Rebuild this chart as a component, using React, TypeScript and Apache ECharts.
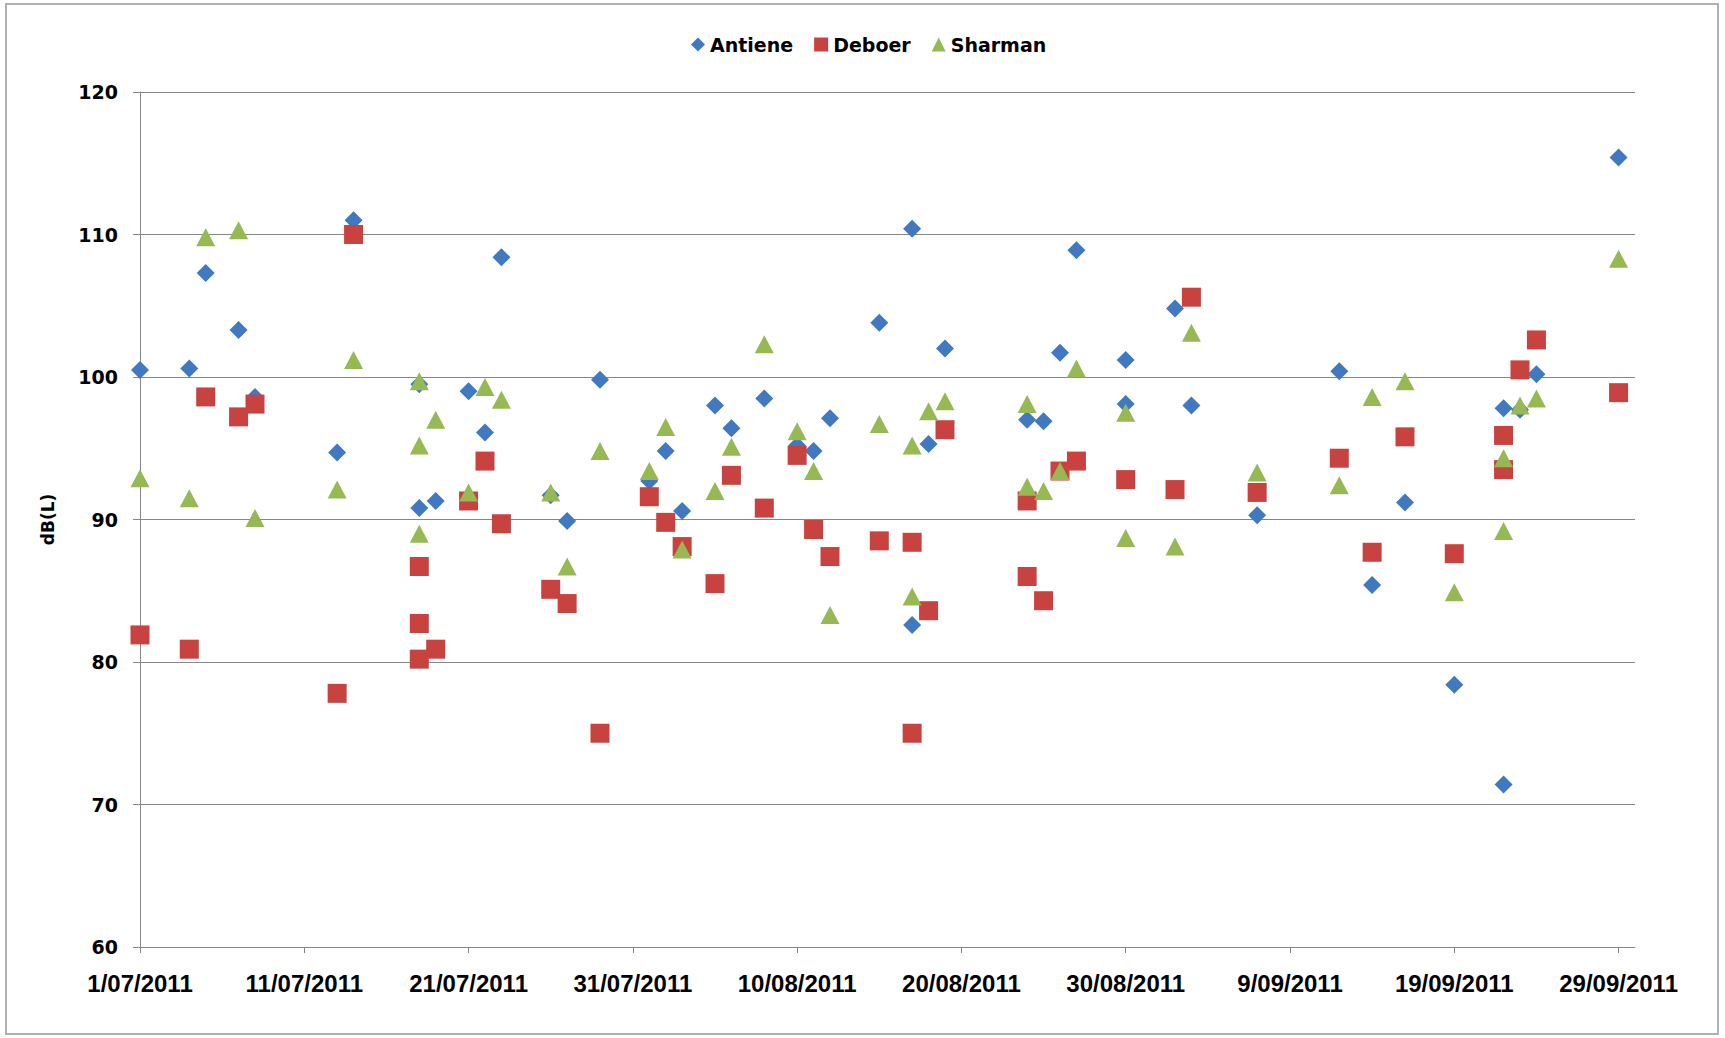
import React, { useEffect, useRef } from "react";
import * as echarts from "echarts";

// Tick positions (days after 1 July 2011) and y ticks
const xTickDays = [0, 10, 20, 30, 40, 50, 60, 70, 80, 90];
const yMin = 60;
const yMax = 120;
const yStep = 10;

const seriesNames = ["Antiene", "Deboer", "Sharman"];

const antiene: [string, number][] = [
  ["2011-07-01", 100.5], ["2011-07-04", 100.6], ["2011-07-05", 107.3], ["2011-07-07", 103.3],
  ["2011-07-08", 98.6], ["2011-07-13", 94.7], ["2011-07-14", 111.0], ["2011-07-18", 99.5],
  ["2011-07-18", 90.8], ["2011-07-19", 91.3], ["2011-07-21", 99.0], ["2011-07-22", 96.1],
  ["2011-07-23", 108.4], ["2011-07-26", 91.7], ["2011-07-27", 89.9], ["2011-07-29", 99.8],
  ["2011-08-01", 92.7], ["2011-08-02", 94.8], ["2011-08-03", 90.6], ["2011-08-05", 98.0],
  ["2011-08-06", 96.4], ["2011-08-08", 98.5], ["2011-08-10", 95.2], ["2011-08-11", 94.8],
  ["2011-08-12", 97.1], ["2011-08-15", 103.8], ["2011-08-17", 110.4], ["2011-08-17", 82.6],
  ["2011-08-18", 95.3], ["2011-08-19", 102.0], ["2011-08-24", 97.0], ["2011-08-25", 96.9],
  ["2011-08-26", 101.7], ["2011-08-27", 108.9], ["2011-08-30", 101.2], ["2011-08-30", 98.1],
  ["2011-09-02", 104.8], ["2011-09-03", 98.0], ["2011-09-07", 90.3], ["2011-09-12", 100.4],
  ["2011-09-14", 85.4], ["2011-09-16", 91.2], ["2011-09-19", 78.4], ["2011-09-22", 97.8],
  ["2011-09-22", 71.4], ["2011-09-23", 97.7], ["2011-09-24", 100.2], ["2011-09-29", 115.4],
];

const deboer: [string, number][] = [
  ["2011-07-01", 81.9], ["2011-07-04", 80.9], ["2011-07-05", 98.6], ["2011-07-07", 97.2],
  ["2011-07-08", 98.1], ["2011-07-13", 77.8], ["2011-07-14", 110.0], ["2011-07-18", 86.7],
  ["2011-07-18", 82.7], ["2011-07-18", 80.2], ["2011-07-19", 80.9], ["2011-07-21", 91.3],
  ["2011-07-22", 94.1], ["2011-07-23", 89.7], ["2011-07-26", 85.1], ["2011-07-27", 84.1],
  ["2011-07-29", 75.0], ["2011-08-01", 91.6], ["2011-08-02", 89.8], ["2011-08-03", 88.1],
  ["2011-08-05", 85.5], ["2011-08-06", 93.1], ["2011-08-08", 90.8], ["2011-08-10", 94.5],
  ["2011-08-11", 89.3], ["2011-08-12", 87.4], ["2011-08-15", 88.5], ["2011-08-17", 88.4],
  ["2011-08-17", 75.0], ["2011-08-18", 83.6], ["2011-08-19", 96.3], ["2011-08-24", 91.3],
  ["2011-08-24", 86.0], ["2011-08-25", 84.3], ["2011-08-26", 93.4], ["2011-08-27", 94.1],
  ["2011-08-30", 92.8], ["2011-09-02", 92.1], ["2011-09-03", 105.6], ["2011-09-07", 91.9],
  ["2011-09-12", 94.3], ["2011-09-14", 87.7], ["2011-09-16", 95.8], ["2011-09-19", 87.6],
  ["2011-09-22", 95.9], ["2011-09-22", 93.5], ["2011-09-23", 100.5], ["2011-09-24", 102.6],
  ["2011-09-29", 98.9],
];

const sharman: [string, number][] = [
  ["2011-07-01", 92.9], ["2011-07-04", 91.5], ["2011-07-05", 109.8], ["2011-07-07", 110.3],
  ["2011-07-08", 90.1], ["2011-07-13", 92.1], ["2011-07-14", 101.2], ["2011-07-18", 99.7],
  ["2011-07-18", 95.2], ["2011-07-18", 89.0], ["2011-07-19", 97.0], ["2011-07-21", 91.9],
  ["2011-07-22", 99.3], ["2011-07-23", 98.4], ["2011-07-26", 91.9], ["2011-07-27", 86.7],
  ["2011-07-29", 94.8], ["2011-08-01", 93.4], ["2011-08-02", 96.5], ["2011-08-03", 87.9],
  ["2011-08-05", 92.0], ["2011-08-06", 95.1], ["2011-08-08", 102.3], ["2011-08-10", 96.2],
  ["2011-08-11", 93.4], ["2011-08-12", 83.3], ["2011-08-15", 96.7], ["2011-08-17", 95.2],
  ["2011-08-17", 84.6], ["2011-08-18", 97.6], ["2011-08-19", 98.3], ["2011-08-24", 98.1],
  ["2011-08-24", 92.3], ["2011-08-25", 92.0], ["2011-08-26", 93.4], ["2011-08-27", 100.6],
  ["2011-08-30", 97.5], ["2011-08-30", 88.7], ["2011-09-02", 88.1], ["2011-09-03", 103.1],
  ["2011-09-07", 93.3], ["2011-09-12", 92.4], ["2011-09-14", 98.6], ["2011-09-16", 99.7],
  ["2011-09-19", 84.9], ["2011-09-22", 94.3], ["2011-09-22", 89.2], ["2011-09-23", 98.0],
  ["2011-09-24", 98.5], ["2011-09-29", 108.3],
];

const START = Date.UTC(2011, 6, 1);
const DAY = 86400000;
const toDay = (s: string) => (Date.parse(s + "T00:00:00Z") - START) / DAY;
const toPoints = (arr: [string, number][]) => arr.map(([d, v]) => [toDay(d), v]);
const fmtDate = (v: number) => {
  const dt = new Date(START + Math.round(v) * DAY);
  const mm = String(dt.getUTCMonth() + 1).padStart(2, "0");
  return `${dt.getUTCDate()}/${mm}/${dt.getUTCFullYear()}`;
};

const AXIS_GRAY = "#868686";

export default function App() {
  const ref = useRef<HTMLDivElement>(null);
  useEffect(() => {
    if (!ref.current) return;
    const chart = echarts.init(ref.current, null, { renderer: "svg" });
    chart.setOption({
      animation: false,
      backgroundColor: "#ffffff",
      graphic: [
        {
          type: "rect",
          silent: true,
          shape: { x: 6, y: 4, width: 1712, height: 1030 },
          style: { fill: "none", stroke: "#b0b0b0", lineWidth: 2 },
        },
      ],
      legend: {
        left: 686,
        top: 30,
        itemWidth: 14,
        itemHeight: 14,
        itemGap: 21,
        data: [
          { name: seriesNames[0], icon: "diamond" },
          { name: seriesNames[1], icon: "rect" },
          { name: seriesNames[2], icon: "triangle" },
        ],
        textStyle: {
          fontFamily: "DejaVu Sans",
          fontWeight: "bold",
          fontSize: 19,
          color: "#000",
        },
      },
      grid: { left: 140, right: 90, top: 92, bottom: 91, containLabel: false },
      xAxis: {
        type: "value",
        min: 0,
        max: 91,
        interval: 10,
        axisLine: { show: true, lineStyle: { color: AXIS_GRAY, width: 1 } },
        axisTick: {
          show: true,
          length: 6,
          customValues: xTickDays,
          lineStyle: { color: AXIS_GRAY },
        },
        axisLabel: {
          customValues: xTickDays,
          formatter: (v: number) => fmtDate(v),
          fontFamily: "Liberation Sans",
          fontWeight: "bold",
          fontSize: 24,
          color: "#000",
          margin: 24,
        },
        splitLine: { show: false },
      },
      yAxis: {
        type: "value",
        min: yMin,
        max: yMax,
        interval: yStep,
        name: "dB(L)",
        nameLocation: "middle",
        nameGap: 84,
        nameTextStyle: {
          fontFamily: "DejaVu Sans",
          fontWeight: "bold",
          fontSize: 17,
          color: "#000",
        },
        axisLine: { show: true, lineStyle: { color: AXIS_GRAY, width: 1 } },
        axisTick: { show: true, length: 7, lineStyle: { color: AXIS_GRAY } },
        axisLabel: {
          fontFamily: "DejaVu Sans",
          fontWeight: "bold",
          fontSize: 19,
          color: "#000",
          margin: 22,
        },
        splitLine: { show: true, lineStyle: { color: AXIS_GRAY, width: 1 } },
      },
      series: [
        {
          name: seriesNames[0],
          type: "scatter",
          symbol: "diamond",
          symbolSize: 18,
          itemStyle: { color: "#4079c0", opacity: 1 },
          data: toPoints(antiene),
        },
        {
          name: seriesNames[1],
          type: "scatter",
          symbol: "rect",
          symbolSize: 19,
          itemStyle: { color: "#c8423f", opacity: 1 },
          data: toPoints(deboer),
        },
        {
          name: seriesNames[2],
          type: "scatter",
          symbol: "triangle",
          symbolSize: [19, 18],
          itemStyle: { color: "#96b954", opacity: 1 },
          data: toPoints(sharman),
        },
      ],
    });
    return () => chart.dispose();
  }, []);
  return (
    <div
      ref={ref}
      style={{ position: "fixed", left: 0, top: 0, width: 1725, height: 1038, background: "#fff" }}
    />
  );
}
